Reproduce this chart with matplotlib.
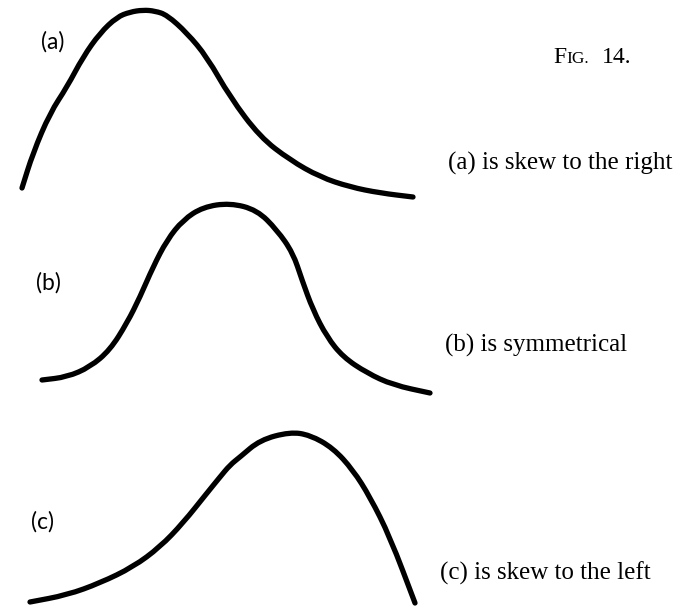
import numpy as np
import matplotlib
matplotlib.use('Agg')
import matplotlib.pyplot as plt
from matplotlib.path import Path
from matplotlib.patches import PathPatch

# traced curves, in page pixels (y grows downward)
a_x = [22, 33, 50, 67, 83, 100, 117, 130, 143, 155, 167, 187, 207, 230, 260, 290, 320, 350, 380, 413]
a_y = [188, 153, 113, 87, 57, 33, 17, 12, 10, 11, 15, 33, 57, 97, 137, 160, 177, 187, 193, 197]

b_x = [42, 67, 90, 110, 127, 140, 153, 167, 183, 203, 230, 257, 277, 293, 302, 313, 327, 343, 367, 393, 430]
b_y = [380, 377, 367, 350, 323, 297, 267, 240, 220, 207, 203, 210, 230, 253, 280, 310, 337, 357, 373, 385, 393]

c_x = [30, 67, 100, 133, 160, 183, 207, 220, 230, 240, 260, 290, 310, 333, 353, 370, 390, 415]
c_y = [602, 595, 583, 567, 547, 523, 493, 477, 465, 457, 440, 432, 435, 448, 470, 497, 537, 603]

curve_labels = ['(a)', '(b)', '(c)']
captions = ['(a) is skew to the right', '(b) is symmetrical', '(c) is skew to the left']


def smooth_path(xs, ys):
    # quadratic beziers through segment midpoints, corners used as control points
    p = np.column_stack([xs, ys]).astype(float)
    mids = (p[:-1] + p[1:]) / 2
    verts = [p[0], mids[0]]
    codes = [Path.MOVETO, Path.LINETO]
    for i in range(1, len(p) - 1):
        verts += [p[i], mids[i]]
        codes += [Path.CURVE3, Path.CURVE3]
    verts.append(p[-1])
    codes.append(Path.LINETO)
    return Path(verts, codes)


fig = plt.figure(figsize=(6.83, 6.07), dpi=100)
ax = fig.add_axes([0, 0, 1, 1])
ax.set_xlim(0, 683)
ax.set_ylim(607, 0)
ax.axis('off')

for xs, ys in [(a_x, a_y), (b_x, b_y), (c_x, c_y)]:
    ax.add_patch(PathPatch(smooth_path(xs, ys), facecolor='none', edgecolor='black',
                           lw=3.8, capstyle='round', joinstyle='round'))

# letters beside each curve
label_pos = [(53, 42), (48, 283), (42, 522)]
for lab, (x, y) in zip(curve_labels, label_pos):
    ax.text(x, y, lab, fontsize=16.5, family='Lato', ha='center', va='center')

# captions on the right
cap_pos = [(448, 163), (445, 345), (440, 573)]
for cap, (x, y) in zip(captions, cap_pos):
    ax.text(x, y, cap, fontsize=18, family='Liberation Serif', ha='left', va='center')

# figure number, small caps
ax.text(553, 63, 'F', fontsize=17, family='Liberation Serif', ha='left', va='baseline')
ax.text(566, 63, 'IG.', fontsize=12.5, family='Liberation Serif', ha='left', va='baseline')
ax.text(602, 63, '14.', fontsize=17, family='Liberation Serif', ha='left', va='baseline')

fig.savefig('out.png', dpi=100, facecolor='white')
